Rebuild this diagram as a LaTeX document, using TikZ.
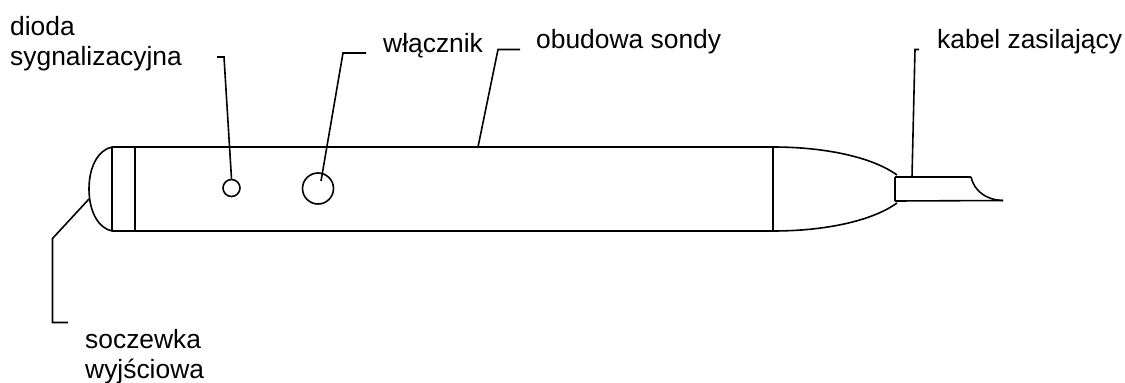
\documentclass[tikz,border=0pt]{standalone}
\usepackage{fontspec}
\setmainfont{Liberation Sans}
\tikzset{
  lbl/.style={anchor=base west,inner sep=0pt,font=\fontsize{26.4}{30}\selectfont,text=black},
  ln/.style={draw=black,line width=1.6pt},
  hole/.style={circle,draw=black,line width=1.6pt,inner sep=0pt,fill=none},
}
\begin{document}
\begin{tikzpicture}[x=1pt,y=-1pt]
\useasboundingbox[fill=white] (0,0) rectangle (1125,383);
% labels
\node[lbl] (tdioda) at (10,35) {dioda};
\node[lbl] (tsyg) at (10,65) {sygnalizacyjna};
\node[lbl] (twl) at (383,52) {włącznik};
\node[lbl] (tobu) at (536,48) {obudowa sondy};
\node[lbl] (tkab) at (937,48) {kabel zasilający};
\node[lbl] (tsoc) at (85,348) {soczewka};
\node[lbl] (twyj) at (85,378) {wyjściowa};
% body
\coordinate (tl) at (112,147);
\coordinate (bl) at (112,231);
\coordinate (tm) at (135,147);
\coordinate (bm) at (135,231);
\coordinate (tr) at (773,147);
\coordinate (br) at (773,231);
\coordinate (ct) at (895,177);
\coordinate (cb) at (895,201);
\coordinate (ctc) at (897,175);
\coordinate (cbc) at (897,203);
\coordinate (cte) at (971,177);
\coordinate (cbe) at (1003,200.5);
\draw[ln] (tl) -- (tr) (bl) -- (br) (tl) -- (bl) (tm) -- (bm) (tr) -- (br);
\draw[ln] (tl) .. controls (98,150) and (89,167) .. (89,189) .. controls (89,211) and (98,228) .. (bl);
\draw[ln] (tr) .. controls (825,147) and (872,157) .. (ctc);
\draw[ln] (br) .. controls (825,231) and (872,221) .. (cbc);
\draw[ln] (ct) -- (cte) (ct) -- (cb) (cb) -- (cbe);
\draw[ln] (cte) .. controls (974,190) and (985,200) .. (cbe);
% holes
\node[hole,minimum size=17pt] (diode) at (231.5,188) {};
\node[hole,minimum size=31pt] (switch) at (318,188.5) {};
% leaders
\coordinate (d1) at (217,57);
\coordinate (d2) at (224,57);
\draw[ln] (d1) -- (d2) -- (diode.north);
\coordinate (s1) at (366,53);
\coordinate (s2) at (343,53);
\coordinate (s3) at (321,181);
\draw[ln] (s1) -- (s2) -- (s3);
\coordinate (o1) at (520,49.5);
\coordinate (o2) at (498,49.5);
\coordinate (o3) at (478,147);
\draw[ln] (o1) -- (o2) -- (o3);
\coordinate (k1) at (919,49.5);
\coordinate (k2) at (915,49.5);
\coordinate (k3) at (912,177);
\draw[ln] (k1) -- (k2) -- (k3);
\coordinate (l0) at (89,199);
\coordinate (l1) at (52.5,238.5);
\coordinate (l2) at (52.5,322.5);
\coordinate (l3) at (68,322.5);
\draw[ln] (l0) -- (l1) -- (l2) -- (l3);
\end{tikzpicture}
\end{document}
